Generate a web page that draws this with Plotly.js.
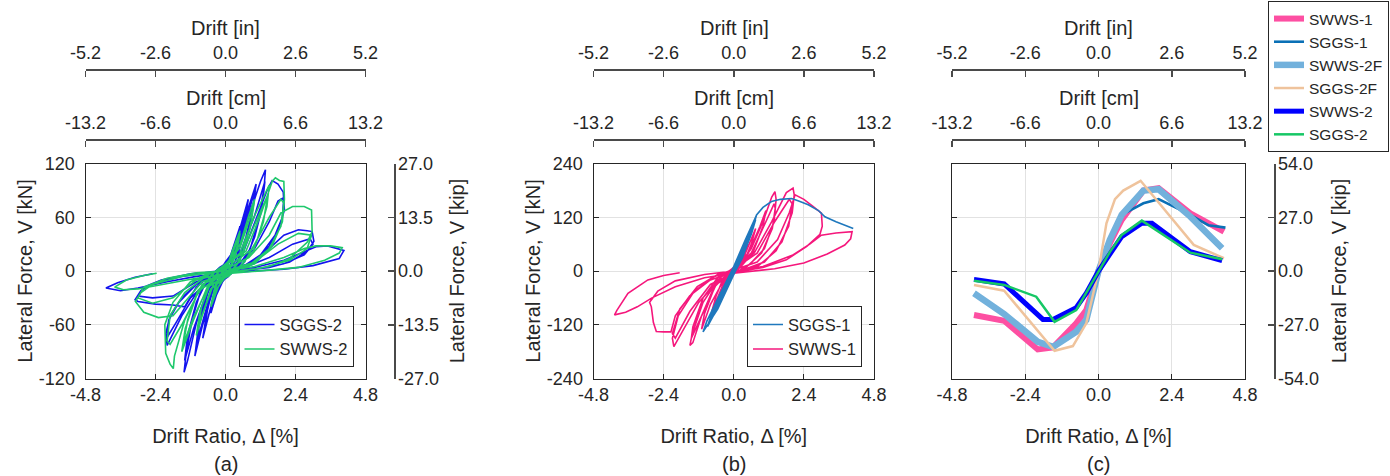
<!DOCTYPE html>
<html>
<head>
<meta charset="utf-8">
<script src="https://cdn.plot.ly/plotly-3.0.1.min.js"></script>
<style>html,body{margin:0;padding:0;background:#fff;}#chart{width:1390px;height:476px;}</style>
</head>
<body>
<div id="chart"></div>
<script>
// ---------- tick values / labels ----------
const driftTicks = [-4.8, -2.4, 0, 2.4, 4.8];
const driftTickText = ['-4.8', '-2.4', '0.0', '2.4', '4.8'];
const inchTicks = [-5.2, -2.6, 0, 2.6, 5.2];
const inchTickText = ['-5.2', '-2.6', '0.0', '2.6', '5.2'];
const cmTicks = [-13.2, -6.6, 0, 6.6, 13.2];
const cmTickText = ['-13.2', '-6.6', '0.0', '6.6', '13.2'];
const kNTicksA = [-120, -60, 0, 60, 120];
const kNTickTextA = ['-120', '-60', '0', '60', '120'];
const kNTicksB = [-240, -120, 0, 120, 240];
const kNTickTextB = ['-240', '-120', '0', '120', '240'];
const kipTicksA = [-27, -13.5, 0, 13.5, 27];
const kipTickTextA = ['-27.0', '-13.5', '0.0', '13.5', '27.0'];
const kipTicksC = [-54, -27, 0, 27, 54];
const kipTickTextC = ['-54.0', '-27.0', '0.0', '27.0', '54.0'];
const panelLabels = ['(a)', '(b)', '(c)'];
const topTitles = ['Drift [in]', 'Drift [cm]'];

// ---------- panel (a): [drift %, force kN] ----------
const SGGS2_A = [
 [0,0],[0.2,20],[0.4,40],[0.5,50],[0.4,32],[0.2,10],[0.05,-3],[-0.2,-15],[-0.4,-36],[-0.5,-47],[-0.4,-30],[-0.2,-10],[-0.05,3],
 [0.2,18],[0.5,48],[0.4,28],[0.15,5],[-0.2,-14],[-0.5,-44],[-0.35,-22],[-0.1,0],
 [0.3,25],[0.6,58],[0.78,80],[0.68,58],[0.45,20],[0.2,2],[-0.1,-12],[-0.5,-40],[-0.78,-75],[-0.65,-48],[-0.4,-14],[-0.15,2],
 [0.35,25],[0.75,74],[0.62,48],[0.35,12],[0.05,-6],[-0.35,-22],[-0.75,-70],[-0.6,-40],[-0.3,-8],[0,8],
 [0.4,28],[0.8,72],[1.05,97],[0.95,72],[0.7,38],[0.4,10],[0.1,-6],[-0.4,-18],[-0.8,-62],[-1.05,-95],[-0.95,-68],[-0.7,-30],[-0.35,-8],[0,10],
 [0.5,32],[0.9,78],[1.02,90],[0.9,62],[0.55,18],[0.2,0],[-0.2,-14],[-0.5,-24],[-0.9,-70],[-1.02,-88],[-0.9,-60],[-0.55,-18],[-0.2,0],[0.1,12],
 [0.4,22],[0.9,70],[1.2,100],[1.37,113],[1.32,92],[1.15,60],[0.85,25],[0.45,6],[0,-8],[-0.5,-16],[-1.0,-58],[-1.3,-100],[-1.42,-113],[-1.35,-92],[-1.15,-55],[-0.85,-22],[-0.45,-5],[0,9],
 [0.5,20],[1.0,62],[1.3,95],[1.35,100],[1.25,70],[1.0,38],[0.65,10],[0.2,-3],[-0.3,-14],[-0.6,-20],[-1.1,-65],[-1.4,-100],[-1.3,-72],[-1.0,-35],[-0.6,-8],[-0.2,4],
 [0.6,20],[1.1,62],[1.45,92],[1.6,101],[1.8,97],[1.98,88],[2.02,68],[1.81,46],[1.5,28],[1.0,10],[0.4,0],[-0.4,-8],[-1.0,-25],[-1.5,-50],[-1.9,-75],[-2.0,-83],[-2.05,-70],[-1.9,-50],[-1.5,-30],[-0.9,-12],[-0.3,-2],[0.3,4],
 [1.0,25],[1.5,55],[1.8,78],[2.0,82],[1.95,60],[1.7,40],[1.2,18],[0.5,3],[-0.5,-8],[-1.2,-30],[-1.7,-58],[-2.0,-74],[-1.95,-55],[-1.6,-35],[-1.0,-15],[-0.3,-2],
 [0.8,8],[1.5,25],[2.0,40],[2.5,46],[2.8,45],[2.97,44],[3.03,33],[2.8,22],[2.2,10],[1.5,4],[0.5,0],[-0.5,-5],[-1.0,-18],[-1.4,-40],[-1.8,-38],[-2.4,-37],[-3.0,-34],[-3.1,-32],[-2.9,-22],[-2.5,-14],[-1.5,-6],[-0.5,-1],[0.5,2],
 [1.5,15],[2.3,30],[2.9,36],[3.0,30],[2.7,18],[2.0,8],[1.0,2],[0,-2],[-1.0,-12],[-1.8,-28],[-2.5,-30],[-3.0,-28],[-2.8,-18],[-2.2,-10],[-1.2,-3],[0,0],
 [1.0,4],[2.0,12],[2.7,22],[3.1,27],[3.5,28],[4.06,23],[3.9,14],[3.0,6],[2.0,2],[1.0,0],[0,-2],[-1.0,-6],[-2.0,-12],[-3.0,-19],[-3.6,-22],[-4.1,-19],[-3.7,-13],[-3.1,-7],[-2.5,-3]
];
const SWWS2_A = [
 [0,0],[0.25,24],[0.5,45],[0.4,28],[0.2,8],[0.05,-4],[-0.25,-18],[-0.5,-40],[-0.38,-22],[-0.15,-4],[0.05,3],
 [0.3,26],[0.5,42],[0.38,22],[0.15,2],[-0.3,-20],[-0.5,-38],[-0.35,-16],[-0.05,3],
 [0.5,30],[0.8,62],[1.0,80],[0.88,55],[0.6,18],[0.25,2],[-0.4,-14],[-0.8,-50],[-1.0,-72],[-0.88,-46],[-0.55,-14],[-0.1,4],
 [0.5,26],[0.95,70],[0.85,48],[0.5,12],[0.1,-5],[-0.5,-20],[-0.95,-64],[-0.82,-40],[-0.45,-8],[0,6],
 [0.5,20],[1.0,62],[1.5,96],[1.42,72],[1.1,36],[0.65,10],[0.1,-6],[-0.6,-16],[-1.1,-55],[-1.5,-90],[-1.38,-64],[-1.0,-28],[-0.5,-5],[0,8],
 [0.6,22],[1.1,58],[1.45,85],[1.3,55],[0.95,22],[0.4,2],[-0.6,-18],[-1.1,-52],[-1.45,-82],[-1.3,-55],[-0.95,-22],[-0.3,1],
 [0.7,22],[1.2,62],[1.6,100],[1.71,104],[1.85,101],[2.0,100],[2.02,80],[1.95,55],[1.6,28],[1.0,8],[0,-3],[-0.8,-15],[-1.4,-55],[-1.75,-95],[-1.79,-109],[-1.9,-104],[-2.05,-92],[-2.08,-60],[-1.8,-35],[-1.2,-12],[-0.5,-2],[0,3],
 [0.9,24],[1.5,60],[1.9,80],[2.0,76],[1.9,50],[1.5,25],[0.8,6],[0,-2],[-0.9,-22],[-1.5,-60],[-1.9,-82],[-2.0,-78],[-1.9,-50],[-1.4,-24],[-0.6,-4],[0,2],
 [0.8,15],[1.5,40],[1.9,65],[2.3,72],[2.7,72],[2.95,68],[2.97,44],[2.8,32],[2.2,14],[1.5,5],[0.5,0],[0,-3],[-0.8,-12],[-1.4,-35],[-1.8,-50],[-2.3,-52],[-2.8,-46],[-3.09,-34],[-2.9,-24],[-2.5,-15],[-1.5,-6],[0,0],
 [1.0,10],[1.8,30],[2.5,42],[2.95,40],[2.8,25],[2.2,12],[1.2,3],[0,-2],[-1.0,-10],[-1.8,-30],[-2.5,-36],[-3.0,-30],[-2.8,-18],[-2.0,-8],[-1.0,-2],[0,0],
 [1.0,5],[2.0,15],[2.7,25],[3.1,28],[3.6,28],[4.0,26],[3.9,20],[3.4,12],[2.5,4],[1.5,1],[0,-3],[-1.0,-8],[-2.0,-14],[-3.0,-20],[-3.5,-21],[-3.8,-18],[-3.4,-10],[-2.8,-5],[-2.36,-2.6]
];

// ---------- panel (b): [drift %, force kN] ----------
const SWWS1_B = [
 [0,0],[0.3,35],[0.5,60],[0.35,30],[0.1,5],[-0.2,-15],[-0.5,-55],[-0.35,-25],[-0.1,-5],[0.1,5],
 [0.4,40],[0.75,95],[0.6,60],[0.35,20],[0.05,-4],[-0.3,-20],[-0.75,-90],[-0.6,-55],[-0.35,-15],[0,6],
 [0.5,40],[0.9,100],[1.1,135],[1.0,100],[0.65,40],[0.25,10],[-0.3,-15],[-0.8,-75],[-1.1,-130],[-1.0,-95],[-0.65,-35],[-0.25,-8],[0.1,6],
 [0.6,50],[1.0,110],[1.3,165],[1.41,177],[1.45,160],[1.38,110],[1.05,50],[0.55,15],[0,-6],[-0.6,-25],[-1.1,-100],[-1.4,-160],[-1.5,-166],[-1.42,-140],[-1.05,-70],[-0.55,-20],[0,8],
 [0.6,40],[1.1,110],[1.38,150],[1.42,140],[1.32,95],[0.95,40],[0.45,10],[0,-6],[-0.6,-30],[-1.1,-100],[-1.45,-150],[-1.4,-125],[-1.05,-60],[-0.55,-15],[0,6],
 [0.7,40],[1.3,110],[1.8,175],[2.03,185],[2.07,170],[2.0,130],[1.65,65],[1.05,20],[0.3,2],[-0.5,-20],[-1.2,-70],[-1.8,-140],[-2.05,-169],[-2.1,-150],[-1.9,-100],[-1.35,-45],[-0.65,-12],[0,4],
 [0.8,40],[1.4,110],[1.9,160],[2.0,150],[1.88,100],[1.45,45],[0.85,12],[0,-5],[-0.8,-30],[-1.5,-90],[-2.0,-150],[-2.1,-140],[-1.85,-85],[-1.25,-35],[-0.55,-8],[0,2],
 [0.8,20],[1.5,70],[1.9,130],[2.1,170],[2.4,160],[2.7,145],[3.0,129],[3.03,100],[2.95,82],[2.5,55],[1.8,25],[1.0,8],[0,-3],[-0.8,-20],[-1.5,-55],[-2.0,-100],[-2.15,-136],[-2.4,-136],[-2.65,-135],[-2.75,-115],[-2.82,-80],[-2.88,-70],[-2.6,-45],[-2.0,-22],[-1.0,-8],[0,0],
 [1.0,10],[2.0,35],[2.6,60],[3.0,80],[3.5,85],[4.05,88],[4.0,72],[3.8,58],[3.2,38],[2.4,18],[1.4,5],[0,-5],[-1.0,-15],[-2.0,-35],[-2.8,-60],[-3.3,-80],[-3.7,-92],[-4.08,-98],[-4.0,-88],[-3.62,-50],[-2.94,-20],[-2.4,-10],[-1.85,-4]
];
const SGGS1_B = [
 [0,0],[0.1,15],[0.2,30],[0.12,15],[0,-2],[-0.1,-15],[-0.2,-30],[-0.12,-14],[0,2],
 [0.2,28],[0.35,52],[0.25,32],[0.08,5],[-0.1,-15],[-0.25,-38],[-0.4,-58],[-0.3,-38],[-0.12,-10],[0.05,8],
 [0.2,32],[0.38,58],[0.28,36],[0.1,8],[-0.15,-22],[-0.42,-60],[-0.3,-36],[-0.08,-4],
 [0.25,38],[0.5,72],[0.4,50],[0.18,15],[-0.05,-12],[-0.3,-45],[-0.55,-78],[-0.45,-55],[-0.2,-18],[0.05,10],
 [0.3,48],[0.52,78],[0.4,52],[0.12,10],[-0.2,-30],[-0.58,-82],[-0.45,-56],[-0.15,-10],
 [0.3,50],[0.62,90],[0.5,66],[0.25,25],[0,-8],[-0.35,-52],[-0.7,-98],[-0.58,-72],[-0.3,-30],[0,6],
 [0.35,58],[0.65,95],[0.52,68],[0.2,18],[-0.25,-38],[-0.72,-102],[-0.6,-76],[-0.25,-24],[0.05,10],
 [0.4,65],[0.72,108],[0.6,82],[0.3,32],[0,-6],[-0.45,-68],[-0.85,-118],[-0.72,-92],[-0.4,-45],[-0.05,0],
 [0.4,68],[0.75,115],[0.62,86],[0.3,30],[-0.2,-32],[-0.6,-88],[-0.9,-124],[-0.78,-100],[-0.45,-52],[-0.1,-5],
 [0.4,70],[0.78,125],[0.66,98],[0.35,40],[0,-8],[-0.55,-85],[-1.05,-136],[-0.92,-112],[-0.55,-62],[-0.15,-10],
 [0.2,30],[0.6,95],[0.78,125],[1.0,142],[1.29,155],[1.6,160],[1.98,162],[2.2,157],[2.55,148],[2.9,135],[3.12,121],[3.5,110],[3.81,103],[4.09,95]
];

// ---------- panel (c): envelopes [drift %, force kip] ----------
const SWWS1_C = [[-4.08,-22.1],[-3.09,-25.0],[-1.99,-39.4],[-1.49,-38.4],[-0.73,-26.3],[-0.4,-19.6],[0,0],[0.37,13.9],[0.76,25.7],[1.47,40.4],[1.97,41.6],[3.01,29.0],[4.11,19.8]];
const SGGS1_C = [[-1.05,-33.5],[-0.73,-29.5],[-0.4,-23.5],[0,0],[0.37,15.6],[0.76,28.2],[1.47,34.0],[1.97,36.1],[3.01,28.2],[3.6,23.0],[4.16,21.8]];
const SWWS2F_C = [[-4.08,-11.2],[-3.09,-21.6],[-1.99,-35.6],[-1.49,-38.1],[-0.73,-30.5],[-0.4,-24.6],[0,0],[0.37,15.6],[0.76,28.2],[1.47,40.4],[1.97,41.1],[3.01,27.3],[4.05,11.4]];
const SGGS2F_C = [[-4.08,-7.0],[-3.09,-9.9],[-1.44,-40.1],[-0.84,-37.7],[-0.4,-26.3],[0,0],[0.26,24.0],[0.54,36.1],[0.81,40.4],[1.38,45.3],[3.12,13.1],[4.11,6.4]];
const SWWS2_C = [[-4.08,-4.2],[-3.09,-6.5],[-1.82,-24.3],[-1.49,-24.3],[-0.73,-18.4],[-0.4,-11.2],[0,0],[0.37,8.9],[0.76,17.3],[1.42,24.0],[1.75,24.0],[3.01,9.7],[4.05,5.2]];
const SGGS2_C = [[-4.08,-4.9],[-3.09,-7.0],[-2.04,-12.9],[-1.44,-25.5],[-0.73,-19.6],[-0.4,-11.0],[0,0],[0.37,9.5],[0.76,18.1],[1.42,25.3],[3.01,9.2],[4.05,5.9]];

// ---------- styling ----------
const FONT = 'Liberation Sans, Arial, Helvetica, sans-serif';
const INK = '#262626';
const AX2 = '#4a4a4a';
const GRID = '#e2e2e2';
const W = 1390, H = 476;
const yDom = [(H - 378.5) / H, (H - 163.5) / H];
const domA = [85.5 / W, 365.5 / W];
const domB = [593.5 / W, 874 / W];
const domC = [952 / W, 1245 / W];
const inPos = (H - 69.3) / H;
const cmPos = (H - 139.3) / H;

function xs(p) { return p.map(d => d[0]); }
function ys(p) { return p.map(d => d[1]); }
function line(p, name, color, width, xa, ya, legend) {
  return {type: 'scatter', mode: 'lines', x: xs(p), y: ys(p), name: name, xaxis: xa, yaxis: ya,
          legend: legend, line: {color: color, width: width}, hoverinfo: 'skip'};
}
function dummy(xa, ya) { return {type: 'scatter', mode: 'lines', x: [], y: [], xaxis: xa, yaxis: ya, showlegend: false, hoverinfo: 'skip'}; }

const tickFont = {family: FONT, size: 18, color: INK};
const titleFont = {family: FONT, size: 20, color: INK};

function bottomX(domain, anchor) {
  return {domain: domain, anchor: anchor, range: [-4.8, 4.8], tickvals: driftTicks, ticktext: driftTickText,
    ticks: 'inside', ticklen: 5, tickwidth: 1, tickcolor: INK, showline: true, linecolor: INK, linewidth: 1, mirror: 'ticks',
    showgrid: true, gridcolor: GRID, gridwidth: 1, zeroline: false, tickfont: tickFont, ticklabelstandoff: 0,
    title: {text: 'Drift Ratio, Δ [%]', font: titleFont, standoff: 24}, fixedrange: true};
}
// top drift axes: a bottom-side axis of a thin invisible strip, ticks hanging down, labels above the line
function topX(domain, anchor, range, vals, text) {
  return {domain: domain, anchor: anchor, side: 'bottom', range: range, tickvals: vals, ticktext: text,
    ticks: 'outside', ticklen: 6, tickwidth: 1.5, tickcolor: AX2, showline: true, linecolor: AX2, linewidth: 1.5,
    ticklabelposition: 'inside', ticklabeloverflow: 'allow', ticklabelstandoff: 7,
    showgrid: false, zeroline: false, tickfont: tickFont, fixedrange: true};
}
function strip(domain, anchor) { return {domain: domain, anchor: anchor, visible: false, range: [0, 1], fixedrange: true}; }
function leftY(domain, anchor, range, vals, text, showLabels) {
  return {domain: domain, anchor: anchor, range: range, tickvals: vals, ticktext: text, showticklabels: showLabels,
    ticks: 'inside', ticklen: 5, tickwidth: 1, tickcolor: INK, showline: true, linecolor: INK, linewidth: 1, mirror: 'ticks',
    showgrid: true, gridcolor: GRID, gridwidth: 1, zeroline: false, tickfont: tickFont, ticklabelstandoff: 6,
    title: showLabels ? {text: 'Lateral Force, V [kN]', font: titleFont, standoff: 0} : {text: ''}, fixedrange: true};
}
function rightY(anchor, range, vals, text, standoff) {
  return {domain: yDom, anchor: anchor, side: 'right', range: range, tickvals: vals, ticktext: text,
    ticks: 'inside', ticklen: 6, tickwidth: 1.5, tickcolor: AX2, showline: true, linecolor: AX2, linewidth: 1.5,
    showgrid: false, zeroline: false, tickfont: tickFont, ticklabelstandoff: -1,
    title: {text: 'Lateral Force, V [kip]', font: titleFont, standoff: standoff}, fixedrange: true};
}

const traces = [
  // (a)
  line(SGGS2_A, 'SGGS-2', '#1414ee', 1.6, 'x', 'y', 'legend'),
  line(SWWS2_A, 'SWWS-2', '#1fc86c', 1.6, 'x', 'y', 'legend'),
  dummy('x2', 'y6'), dummy('x3', 'y7'), dummy('x10', 'y2'),
  // (b)
  line(SWWS1_B, 'SWWS-1', '#f5177c', 1.6, 'x4', 'y3', 'legend2'),
  line(SGGS1_B, 'SGGS-1', '#1f78bd', 1.6, 'x4', 'y3', 'legend2'),
  dummy('x5', 'y6'), dummy('x6', 'y7'),
  // (c)
  line(SWWS1_C, 'SWWS-1', '#fd4fa2', 6, 'x7', 'y4', 'legend3'),
  line(SGGS1_C, 'SGGS-1', '#0a70b6', 2.6, 'x7', 'y4', 'legend3'),
  line(SWWS2F_C, 'SWWS-2F', '#72b1dc', 6.5, 'x7', 'y4', 'legend3'),
  line(SGGS2F_C, 'SGGS-2F', '#efc39c', 2.5, 'x7', 'y4', 'legend3'),
  line(SWWS2_C, 'SWWS-2', '#0000ff', 5, 'x7', 'y4', 'legend3'),
  line(SGGS2_C, 'SGGS-2', '#16c765', 2.5, 'x7', 'y4', 'legend3'),
  dummy('x8', 'y6'), dummy('x9', 'y7'), dummy('x11', 'y5')
];

const legendBase = {bgcolor: '#ffffff', bordercolor: INK, borderwidth: 1, font: {family: FONT, size: 16.5, color: INK},
  itemwidth: 30, tracegroupgap: 0, xanchor: 'right', yanchor: 'bottom', itemclick: false, itemdoubleclick: false};

const panelCenters = [225.5, 734, 1098.5];
const annotations = [];
panelCenters.forEach((cx, i) => {
  annotations.push({text: panelLabels[i], xref: 'paper', yref: 'paper', x: cx / W, y: (H - 464) / H,
    xanchor: 'center', yanchor: 'middle', showarrow: false, font: titleFont});
  annotations.push({text: topTitles[0], xref: 'paper', yref: 'paper', x: cx / W, y: (H - 28) / H,
    xanchor: 'center', yanchor: 'middle', showarrow: false, font: titleFont});
  annotations.push({text: topTitles[1], xref: 'paper', yref: 'paper', x: cx / W, y: (H - 98) / H,
    xanchor: 'center', yanchor: 'middle', showarrow: false, font: titleFont});
});

const layout = {
  width: W, height: H, margin: {l: 0, r: 0, t: 0, b: 0}, paper_bgcolor: '#ffffff', plot_bgcolor: 'rgba(0,0,0,0)',
  font: {family: FONT, color: INK}, showlegend: true,
  // (a)
  xaxis: bottomX(domA, 'y'),
  yaxis: leftY(yDom, 'x', [-120, 120], kNTicksA, kNTickTextA, true),
  xaxis2: topX(domA, 'y6', [-5.2, 5.2], inchTicks, inchTickText),
  xaxis3: topX(domA, 'y7', [-13.2, 13.2], cmTicks, cmTickText),
  xaxis10: {domain: [392 / W, 394 / W], anchor: 'y', visible: false, range: [0, 1], fixedrange: true},
  yaxis2: rightY('x10', [-27, 27], kipTicksA, kipTickTextA, 12),
  // (b)
  xaxis4: bottomX(domB, 'y3'),
  yaxis3: leftY(yDom, 'x4', [-240, 240], kNTicksB, kNTickTextB, true),
  xaxis5: topX(domB, 'y6', [-5.2, 5.2], inchTicks, inchTickText),
  xaxis6: topX(domB, 'y7', [-13.2, 13.2], cmTicks, cmTickText),
  // (c)
  xaxis7: bottomX(domC, 'y4'),
  yaxis4: leftY(yDom, 'x7', [-54, 54], kipTicksC, kipTickTextC, false),
  xaxis8: topX(domC, 'y6', [-5.2, 5.2], inchTicks, inchTickText),
  xaxis9: topX(domC, 'y7', [-13.2, 13.2], cmTicks, cmTickText),
  xaxis11: {domain: [1272 / W, 1274 / W], anchor: 'y4', visible: false, range: [0, 1], fixedrange: true},
  yaxis5: rightY('x11', [-54, 54], kipTicksC, kipTickTextC, 14),
  // invisible strips holding the top axes (their bottom edge is the axis line)
  yaxis6: strip([inPos, inPos + 0.002], 'x2'),
  yaxis7: strip([cmPos, cmPos + 0.002], 'x3'),
  legend: Object.assign({}, legendBase, {x: 353.5 / W, y: (H - 367.3) / H}),
  legend2: Object.assign({}, legendBase, {x: 862 / W, y: (H - 367.3) / H, traceorder: 'reversed'}),
  legend3: Object.assign({}, legendBase, {x: 1389 / W, y: (H - 1) / H, yanchor: 'top', font: {family: FONT, size: 15.5, color: INK}}),
  annotations: annotations
};

Plotly.newPlot('chart', traces, layout, {staticPlot: true, displayModeBar: false});
</script>
</body>
</html>
